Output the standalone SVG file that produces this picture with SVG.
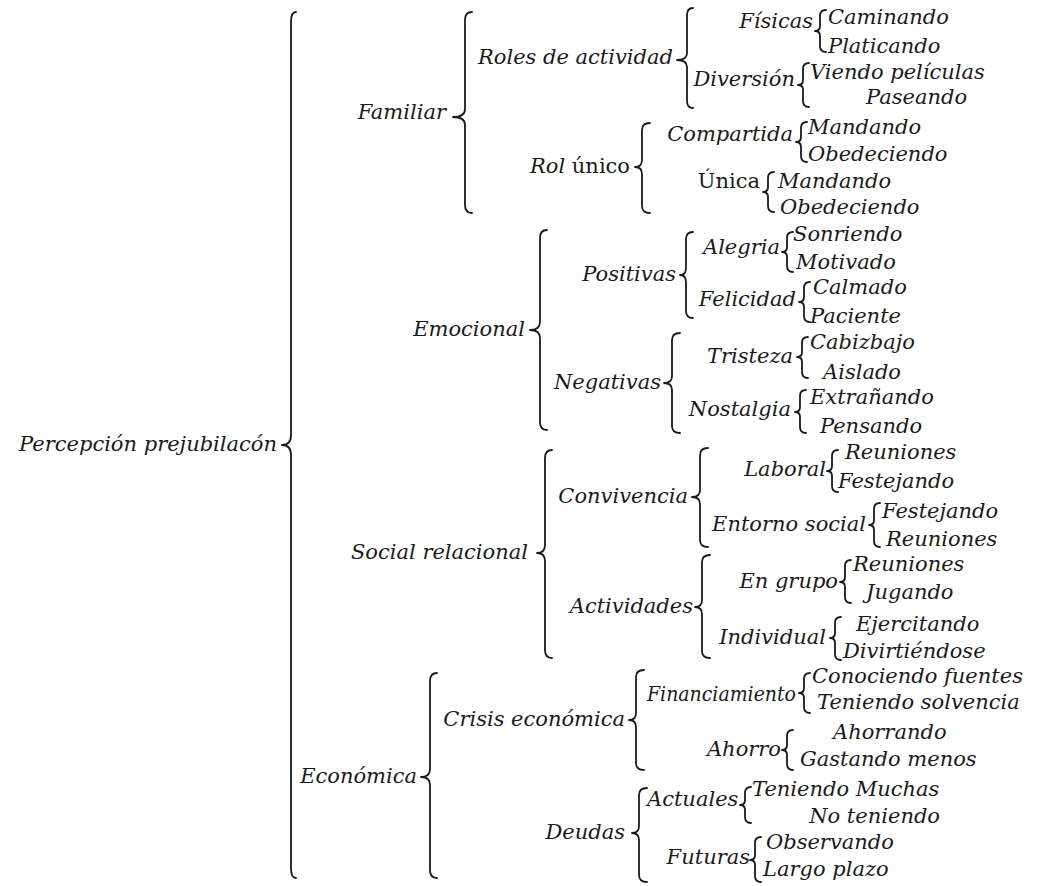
<svg xmlns="http://www.w3.org/2000/svg" width="1053" height="886" viewBox="0 0 1053 886">
<style>
text{font-family:"DejaVu Serif","Liberation Serif",serif;font-style:italic;font-size:21px;fill:#1a1a1a}
.up{font-style:normal}
.r{text-anchor:end}
.br{fill:none;stroke:#1a1a1a;stroke-width:1.8;stroke-linecap:round;stroke-linejoin:round}
</style>
<rect width="1053" height="886" fill="#ffffff"/>
<g id="connectors">
<path class="br" d="M296,12 Q291,12 291,22 L291,435 Q291,445 282,445 Q291,445 291,455 L291,868 Q291,878 296,878"/>
<path class="br" d="M472,12 Q465,12 465,20 L465,109 Q465,117 453,117 Q465,117 465,125 L465,205 Q465,213 472,213"/>
<path class="br" d="M547,230 Q540,230 540,238 L540,322 Q540,330 530,330 Q540,330 540,338 L540,422 Q540,430 547,430"/>
<path class="br" d="M552,450 Q545,450 545,458 L545,545 Q545,553 537,553 Q545,553 545,561 L545,650 Q545,658 552,658"/>
<path class="br" d="M437,673 Q430,673 430,681 L430,769 Q430,777 421,777 Q430,777 430,785 L430,870 Q430,878 437,878"/>
<path class="br" d="M693,8 Q687,8 687,15 L687,53 Q687,60 677,60 Q687,60 687,67 L687,101 Q687,108 693,108"/>
<path class="br" d="M650,123 Q642,123 642,130 L642,160 Q642,167 635,167 Q642,167 642,174 L642,206 Q642,213 650,213"/>
<path class="br" d="M693,232 Q686,232 686,239 L686,268 Q686,275 680,275 Q686,275 686,282 L686,311 Q686,318 693,318"/>
<path class="br" d="M680,333 Q672,333 672,340 L672,376 Q672,383 664,383 Q672,383 672,390 L672,426 Q672,433 680,433"/>
<path class="br" d="M708,448 Q700,448 700,455 L700,490 Q700,497 692,497 Q700,497 700,504 L700,540 Q700,547 708,547"/>
<path class="br" d="M710,555 Q702,555 702,562 L702,600 Q702,607 695,607 Q702,607 702,614 L702,651 Q702,658 710,658"/>
<path class="br" d="M644,670 Q636,670 636,677 L636,713 Q636,720 629,720 Q636,720 636,727 L636,763 Q636,770 644,770"/>
<path class="br" d="M647,788 Q639,788 639,795 L639,826 Q639,833 632,833 Q639,833 639,840 L639,875 Q639,882 647,882"/>
<path class="br" d="M826,10 Q820,10 820,16 L820,26 Q820,31 815,31 Q820,31 820,36 L820,46 Q820,52 826,52"/>
<path class="br" d="M809,63 Q803,63 803,69 L803,80 Q803,85 798,85 Q803,85 803,90 L803,101 Q803,107 809,107"/>
<path class="br" d="M807,122 Q801,122 801,128 L801,137 Q801,142 796,142 Q801,142 801,147 L801,156 Q801,162 807,162"/>
<path class="br" d="M774,172 Q768,172 768,178 L768,187 Q768,192 763,192 Q768,192 768,197 L768,206 Q768,212 774,212"/>
<path class="br" d="M793,232 Q787,232 787,238 L787,247 Q787,252 782,252 Q787,252 787,257 L787,266 Q787,272 793,272"/>
<path class="br" d="M810,282 Q804,282 804,288 L804,297 Q804,302 799,302 Q804,302 804,307 L804,316 Q804,322 810,322"/>
<path class="br" d="M808,337 Q802,337 802,343 L802,352 Q802,357 797,357 Q802,357 802,362 L802,372 Q802,378 808,378"/>
<path class="br" d="M806,390 Q800,390 800,396 L800,407 Q800,412 795,412 Q800,412 800,417 L800,427 Q800,433 806,433"/>
<path class="br" d="M838,450 Q832,450 832,456 L832,466 Q832,471 827,471 Q832,471 832,476 L832,486 Q832,492 838,492"/>
<path class="br" d="M880,503 Q874,503 874,509 L874,520 Q874,525 869,525 Q874,525 874,530 L874,541 Q874,547 880,547"/>
<path class="br" d="M851,560 Q845,560 845,566 L845,577 Q845,582 840,582 Q845,582 845,587 L845,597 Q845,603 851,603"/>
<path class="br" d="M841,617 Q835,617 835,623 L835,633 Q835,638 830,638 Q835,638 835,643 L835,654 Q835,660 841,660"/>
<path class="br" d="M810,673 Q804,673 804,679 L804,688 Q804,693 799,693 Q804,693 804,698 L804,707 Q804,713 810,713"/>
<path class="br" d="M793,730 Q787,730 787,736 L787,745 Q787,750 782,750 Q787,750 787,755 L787,764 Q787,770 793,770"/>
<path class="br" d="M751,787 Q745,787 745,793 L745,800 Q745,805 740,805 Q745,805 745,810 L745,817 Q745,823 751,823"/>
<path class="br" d="M761,837 Q755,837 755,843 L755,855 Q755,860 750,860 Q755,860 755,865 L755,876 Q755,882 761,882"/>
</g>
<g id="n-root"><text class="r" x="277" y="451">Percepción prejubilacón</text></g>
<g id="n-familiar"><text class="r" x="446" y="119">Familiar</text></g>
<g id="n-emocional"><text class="r" x="525" y="336">Emocional</text></g>
<g id="n-social"><text class="r" x="528" y="559">Social relacional</text></g>
<g id="n-economica"><text class="r" x="417" y="783">Económica</text></g>
<g id="n-roles"><text class="r" x="673" y="64">Roles de actividad</text></g>
<g id="n-rolunico"><text class="r" x="630" y="173">Rol <tspan class="up">único</tspan></text></g>
<g id="n-positivas"><text class="r" x="676" y="281">Positivas</text></g>
<g id="n-negativas"><text class="r" x="661" y="389">Negativas</text></g>
<g id="n-convivencia"><text class="r" x="688" y="503">Convivencia</text></g>
<g id="n-actividades"><text class="r" x="693" y="613">Actividades</text></g>
<g id="n-crisis"><text class="r" x="625" y="726">Crisis económica</text></g>
<g id="n-deudas"><text class="r" x="625" y="839">Deudas</text></g>
<g id="n-fisicas"><text class="r" x="813" y="28">Físicas</text><text x="828" y="24">Caminando</text><text x="828" y="53">Platicando</text></g>
<g id="n-diversion"><text class="r" x="795" y="86">Diversión</text><text x="810" y="79">Viendo películas</text><text x="866" y="104">Paseando</text></g>
<g id="n-compartida"><text class="r" x="793" y="141">Compartida</text><text x="808" y="134">Mandando</text><text x="808" y="161">Obedeciendo</text></g>
<g id="n-unica"><text class="r up" x="760" y="188">Única</text><text x="778" y="188">Mandando</text><text x="780" y="214">Obedeciendo</text></g>
<g id="n-alegria"><text class="r" x="780" y="254">Alegria</text><text x="793" y="241">Sonriendo</text><text x="796" y="269">Motivado</text></g>
<g id="n-felicidad"><text class="r" x="796" y="306">Felicidad</text><text x="813" y="294">Calmado</text><text x="810" y="323">Paciente</text></g>
<g id="n-tristeza"><text class="r" x="793" y="363">Tristeza</text><text x="810" y="349">Cabizbajo</text><text x="823" y="379">Aislado</text></g>
<g id="n-nostalgia"><text class="r" x="791" y="416">Nostalgia</text><text x="810" y="404">Extrañando</text><text x="820" y="433">Pensando</text></g>
<g id="n-laboral"><text class="r" x="826" y="476">Laboral</text><text x="845" y="459">Reuniones</text><text x="838" y="488">Festejando</text></g>
<g id="n-entorno"><text class="r" x="866" y="531">Entorno social</text><text x="882" y="518">Festejando</text><text x="886" y="546">Reuniones</text></g>
<g id="n-engrupo"><text class="r" x="838" y="588">En grupo</text><text x="853" y="571">Reuniones</text><text x="866" y="599">Jugando</text></g>
<g id="n-individual"><text class="r" x="826" y="644">Individual</text><text x="856" y="631">Ejercitando</text><text x="843" y="658">Divirtiéndose</text></g>
<g id="n-financiamiento"><text x="647" y="701" textLength="149" lengthAdjust="spacingAndGlyphs">Financiamiento</text><text x="812" y="683">Conociendo fuentes</text><text x="817" y="709">Teniendo solvencia</text></g>
<g id="n-ahorro"><text class="r" x="781" y="756">Ahorro</text><text x="833" y="739">Ahorrando</text><text x="800" y="766">Gastando menos</text></g>
<g id="n-actuales"><text x="647" y="806">Actuales</text><text x="752" y="796">Teniendo Muchas</text><text class="r" x="940" y="823">No teniendo</text></g>
<g id="n-futuras"><text class="r" x="750" y="864">Futuras</text><text x="766" y="849">Observando</text><text x="763" y="876">Largo plazo</text></g>
</svg>
